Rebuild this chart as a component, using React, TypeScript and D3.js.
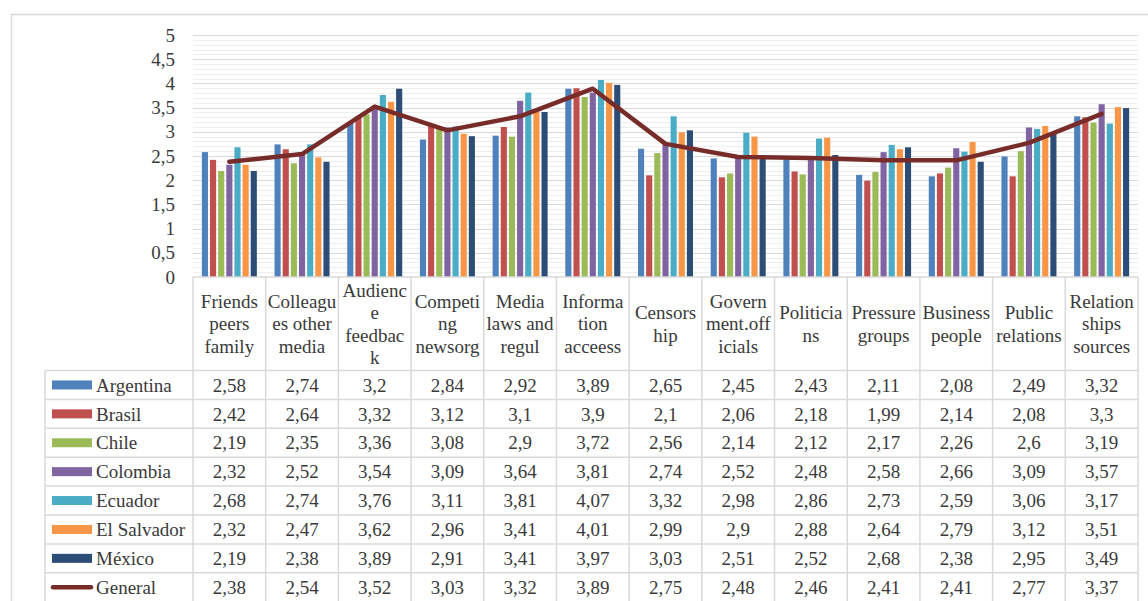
import * as React from "react";
import * as d3 from "d3";

const categories = [
  ["Friends", "peers", "family"],
  ["Colleagu", "es other", "media"],
  ["Audienc", "e", "feedbac", "k"],
  ["Competi", "ng", "newsorg"],
  ["Media", "laws and", "regul"],
  ["Informa", "tion", "acceess"],
  ["Censors", "hip"],
  ["Govern", "ment.off", "icials"],
  ["Politicia", "ns"],
  ["Pressure", "groups"],
  ["Business", "people"],
  ["Public", "relations"],
  ["Relation", "ships", "sources"],
];

const seriesNames = ["Argentina", "Brasil", "Chile", "Colombia", "Ecuador", "El Salvador", "México"];
const seriesColors = ["#4F81BD", "#C0504D", "#9BBB59", "#8064A2", "#4BACC6", "#F79646", "#2C4D75"];

const argentina = [2.58, 2.74, 3.2, 2.84, 2.92, 3.89, 2.65, 2.45, 2.43, 2.11, 2.08, 2.49, 3.32];
const brasil = [2.42, 2.64, 3.32, 3.12, 3.1, 3.9, 2.1, 2.06, 2.18, 1.99, 2.14, 2.08, 3.3];
const chile = [2.19, 2.35, 3.36, 3.08, 2.9, 3.72, 2.56, 2.14, 2.12, 2.17, 2.26, 2.6, 3.19];
const colombia = [2.32, 2.52, 3.54, 3.09, 3.64, 3.81, 2.74, 2.52, 2.48, 2.58, 2.66, 3.09, 3.57];
const ecuador = [2.68, 2.74, 3.76, 3.11, 3.81, 4.07, 3.32, 2.98, 2.86, 2.73, 2.59, 3.06, 3.17];
const elSalvador = [2.32, 2.47, 3.62, 2.96, 3.41, 4.01, 2.99, 2.9, 2.88, 2.64, 2.79, 3.12, 3.51];
const mexico = [2.19, 2.38, 3.89, 2.91, 3.41, 3.97, 3.03, 2.51, 2.52, 2.68, 2.38, 2.95, 3.49];
const general = [2.38, 2.54, 3.52, 3.03, 3.32, 3.89, 2.75, 2.48, 2.46, 2.41, 2.41, 2.77, 3.37];

const seriesValues = [argentina, brasil, chile, colombia, ecuador, elSalvador, mexico];
const generalName = "General";
const generalColor = "#772C2A";

const yTicks = [0, 0.5, 1, 1.5, 2, 2.5, 3, 3.5, 4, 4.5, 5];

const FONT = "Liberation Serif, Times New Roman, serif";
const TEXT = "#3a3a3a";
const GRID = "#d9d9d9";

const fmt = (v: number) => String(v).replace(".", ",");

export default function App() {
  const ref = React.useRef<SVGSVGElement>(null);

  React.useEffect(() => {
    const W = 1148, H = 601;
    const left = 193, right = 1138, top = 35, zeroY = 277;
    const legendLeft = 45;
    const headerBottom = 370.5;
    const rowH = 28.9;

    const svg = d3.select(ref.current);
    svg.selectAll("*").remove();

    const keys = categories.map((c, i) => String(i));
    const x = d3.scaleBand().domain(keys).range([left, right]);
    const bw = x.bandwidth();
    const cluster = 55;
    const xs = d3.scaleBand().domain(seriesNames)
      .range([(bw - cluster) / 2, (bw + cluster) / 2]).paddingInner(0.25);
    const y = d3.scaleLinear().domain([0, 5]).range([zeroY, top]);

    // chart border
    svg.append("path")
      .attr("d", `M11.5,${H + 2} V14.5 H${W + 2}`)
      .attr("fill", "none").attr("stroke", GRID).attr("stroke-width", 1.5);

    // minor gridlines
    const minor = d3.range(0, 50).map(i => i / 10).filter(v => Math.round(v * 10) % 5 !== 0);
    svg.append("g").selectAll("line").data(minor).join("line")
      .attr("x1", left).attr("x2", right)
      .attr("y1", d => Math.round(y(d)) + 0.5).attr("y2", d => Math.round(y(d)) + 0.5)
      .attr("stroke", "#eeeeee");

    // major gridlines
    svg.append("g").selectAll("line").data(yTicks.slice(1)).join("line")
      .attr("x1", left).attr("x2", right)
      .attr("y1", d => Math.round(y(d)) + 0.5).attr("y2", d => Math.round(y(d)) + 0.5)
      .attr("stroke", GRID).attr("stroke-width", 1.2);

    // y labels
    svg.append("g").selectAll("text").data(yTicks).join("text")
      .attr("x", 175).attr("y", d => y(d)).attr("dy", "0.35em")
      .attr("text-anchor", "end")
      .style("font-family", FONT).style("font-size", "19px").attr("fill", TEXT)
      .text(d => fmt(d));

    // bars
    seriesValues.forEach((vals, si) => {
      svg.append("g").selectAll("rect").data(vals).join("rect")
        .attr("x", (d, i) => (x(String(i)) as number) + (xs(seriesNames[si]) as number))
        .attr("width", xs.bandwidth())
        .attr("y", d => y(d))
        .attr("height", d => y(0) - y(d))
        .attr("fill", seriesColors[si]);
    });

    // general line
    const line = d3.line<number>()
      .x((d, i) => (x(String(i)) as number) + bw / 2)
      .y(d => y(d));
    svg.append("path").datum(general)
      .attr("d", line)
      .attr("fill", "none").attr("stroke", generalColor)
      .attr("stroke-width", 4.5).attr("stroke-linejoin", "round").attr("stroke-linecap", "round");

    // table grid
    const g = svg.append("g").attr("stroke", GRID).attr("stroke-width", 1.5).attr("fill", "none");
    const nRows = seriesNames.length + 1;
    const tableBottom = headerBottom + nRows * rowH;
    g.append("line").attr("x1", left).attr("x2", right).attr("y1", zeroY).attr("y2", zeroY);
    const edges = keys.map(k => x(k) as number).concat([right]);
    g.selectAll("line.v").data(edges).join("line").attr("class", "v")
      .attr("x1", d => d).attr("x2", d => d).attr("y1", zeroY).attr("y2", tableBottom);
    g.append("line").attr("x1", legendLeft).attr("x2", legendLeft).attr("y1", headerBottom).attr("y2", tableBottom);
    d3.range(nRows + 1).forEach(r => {
      g.append("line").attr("x1", legendLeft).attr("x2", right)
        .attr("y1", headerBottom + r * rowH).attr("y2", headerBottom + r * rowH);
    });

    // header labels
    const hdr = svg.append("g").style("font-family", FONT).style("font-size", "19px").attr("fill", TEXT)
      .attr("text-anchor", "middle");
    const lineGap = 22.5;
    const hCenter = (zeroY + headerBottom) / 2;
    categories.forEach((lines, i) => {
      const cx = (x(String(i)) as number) + bw / 2;
      lines.forEach((t, j) => {
        hdr.append("text").attr("x", cx)
          .attr("y", hCenter + (j - (lines.length - 1) / 2) * lineGap)
          .attr("dy", "0.35em").text(t);
      });
    });

    // rows
    const rows = seriesValues.map((v, i) => ({ name: seriesNames[i], color: seriesColors[i], vals: v, isLine: false }))
      .concat([{ name: generalName, color: generalColor, vals: general, isLine: true }]);
    const body = svg.append("g").style("font-family", FONT).style("font-size", "19px").attr("fill", TEXT);
    rows.forEach((r, ri) => {
      const cy = headerBottom + ri * rowH + rowH / 2;
      if (r.isLine) {
        body.append("line").attr("x1", 53).attr("x2", 91).attr("y1", cy).attr("y2", cy)
          .attr("stroke", r.color).attr("stroke-width", 4.5).attr("stroke-linecap", "round");
      } else {
        body.append("rect").attr("x", 52).attr("y", cy - 4.5).attr("width", 40).attr("height", 9)
          .attr("fill", r.color);
      }
      body.append("text").attr("x", 96).attr("y", cy).attr("dy", "0.35em").text(r.name);
      body.append("g").selectAll("text").data(r.vals).join("text")
        .attr("x", (d, i) => (x(String(i)) as number) + bw / 2)
        .attr("y", cy).attr("dy", "0.35em").attr("text-anchor", "middle")
        .text(d => fmt(d));
    });
  }, []);

  return (
    <svg ref={ref} width={1148} height={601}
      style={{ position: "absolute", left: 0, top: 0, background: "#fff" }} />
  );
}
